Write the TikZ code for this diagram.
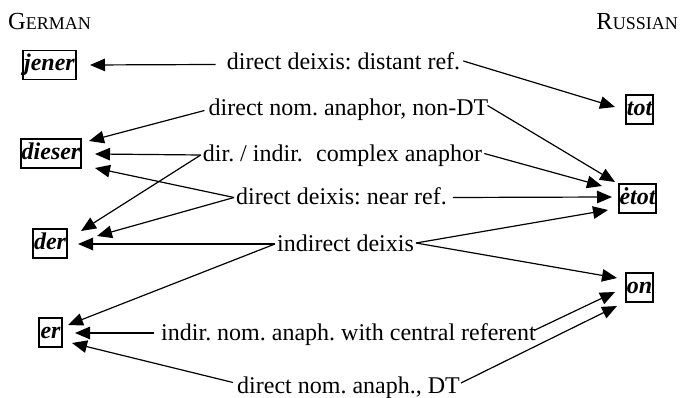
\documentclass[tikz,border=0pt]{standalone}
\usepackage{fontspec}
\setmainfont{Liberation Serif}
\usetikzlibrary{arrows.meta,calc}
\frenchspacing

\begin{document}
\begin{tikzpicture}[x=1pt,y=1pt,
  lab/.style={inner xsep=2pt, inner ysep=0pt, text height=16pt, text depth=5pt,
    anchor=base, font=\fontsize{24}{28}\selectfont},
  word/.style={draw, line width=1.6pt, inner xsep=0.5pt, inner ysep=0pt,
    minimum height=29pt, text height=17pt, text depth=5pt,
    font=\fontsize{24}{28}\selectfont\bfseries\itshape},
  link/.style={line width=1.2pt, -{Triangle[length=15pt,width=12.5pt]}},
  lang/.style={inner sep=0pt}
]
\useasboundingbox (0,0) rectangle (680,398);

% language headings in small capitals
\node[lang, anchor=base west] (german) at (8,368)
  {{\fontsize{24.5}{28}\selectfont G}{\fontsize{18}{20}\selectfont ERMAN}};
\node[lang, anchor=base east] (russian) at (678,368)
  {{\fontsize{24.5}{28}\selectfont R}{\fontsize{18}{20}\selectfont USSIAN}};

% German demonstratives and pronouns
\node[word, minimum width=53pt] (jener)  at (49.5,333)   {jener};
\node[word, minimum width=60pt] (dieser) at (51,244.5)   {dieser};
\node[word, minimum width=34pt] (der)    at (50,154.5)   {der};
\node[word, minimum width=23pt] (er)     at (50.5,65.5)  {er};

% Russian counterparts
\node[word, minimum width=27pt] (tot)  at (639.5,288.5) {tot};
\node[word, minimum width=33pt] (etot) at (637.5,199.5) {ėtot};
\node[word, minimum width=27pt] (on)   at (639.5,110.5) {on};

% functions
\node[lab] (distant)  at (343.5,328) {direct deixis: distant ref.};
\node[lab] (nondt)    at (348.5,282) {direct nom. anaphor, non-DT};
\node[lab] (complex)  at (342.5,236) {dir. / indir.\hspace*{0.55em}complex anaphor};
\node[lab] (near)     at (341.5,193) {direct deixis: near ref.};
\node[lab] (indirect) at (345.5,146) {indirect deixis};
\node[lab] (central)  at (348.5,57)  {indir. nom. anaph. with central referent};
\node[lab] (dt)       at (348.5,4)   {direct nom. anaph., DT};

% German side
\draw[link] ($(distant.west)+(-9,0)$)   -- ($(jener)+(40.5,0)$);
\draw[link] ($(nondt.west)+(-2,0)$)     -- ($(dieser)+(38,12.5)$);
\draw[link] ($(complex.west)+(0,1.5)$)  -- ($(dieser)+(44,-0.5)$);
\draw[link] ($(complex.west)+(0,1.5)$)  -- ($(der)+(31,12.5)$);
\draw[link] ($(near.west)+(0,2)$)       -- ($(dieser)+(44,-14.5)$);
\draw[link] ($(near.west)+(0,2)$)       -- ($(der)+(47,7.5)$);
\draw[link] ($(indirect.west)+(0,2.5)$) -- ($(der)+(28,-0.5)$);
\draw[link] ($(indirect.west)+(0,2.5)$) -- ($(er)+(17.5,7.5)$);
\draw[link] ($(central.west)+(-5,2.5)$) -- ($(er)+(24.5,-0.5)$);
\draw[link] ($(dt.west)+(-2,6)$)        -- ($(er)+(21.5,-10.5)$);

% Russian side
\draw[link] ($(distant.east)+(1,3.5)$)  -- ($(tot)+(-24.5,2.5)$);
\draw[link] ($(nondt.east)+(-3,5)$)     -- ($(etot)+(-22.5,16.5)$);
\draw[link] ($(complex.east)+(0,3)$)    -- ($(etot)+(-35.5,12.5)$);
\draw[link] ($(near.east)+(4,2)$)       -- ($(etot)+(-25.5,1.5)$);
\draw[link] ($(indirect.east)+(0,3.5)$) -- ($(etot)+(-29.5,-11.5)$);
\draw[link] ($(indirect.east)+(0,3.5)$) -- ($(on)+(-22.5,9.5)$);
\draw[link] ($(central.east)+(-4,5)$)   -- ($(on)+(-24.5,-4.5)$);
\draw[link] ($(dt.east)+(-1,5.5)$)      -- ($(on)+(-22.5,-18.5)$);
\end{tikzpicture}
\end{document}
